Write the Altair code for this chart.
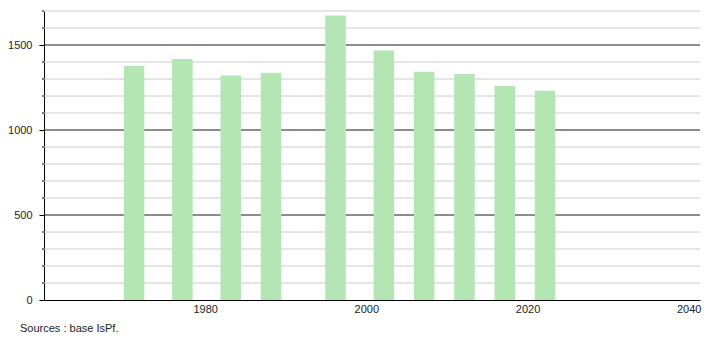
import altair as alt
import pandas as pd

years = [1971, 1977, 1983, 1988, 1996, 2002, 2007, 2012, 2017, 2022]
population = [1376, 1418, 1320, 1337, 1673, 1467, 1343, 1329, 1259, 1231]
x_ticks = [1980, 2000, 2020, 2040]
y_labels = [0, 500, 1000, 1500]
grid_values = [0, 100, 200, 300, 400, 500, 600, 700, 800, 900, 1000,
               1100, 1200, 1300, 1400, 1500, 1600, 1700]
source_text = "Sources : base IsPf."

W, H = 656, 289
FONT = "Liberation Sans"

bars_df = pd.DataFrame({"year": years, "pop": population})
grid_df = pd.DataFrame({"v": grid_values})
grid_df["major"] = grid_df["v"] % 500 == 0

xscale = alt.Scale(domain=[1960, 2041.4], nice=False, zero=False)
yscale = alt.Scale(domain=[0, 1700], nice=False)

yaxis = alt.Axis(
    values=y_labels, title=None, grid=False, tickSize=5, tickColor="#000000",
    domainColor="#000000", labelFont=FONT, labelFontSize=11,
    labelColor="#222222", labelPadding=7, format="d")
xaxis = alt.Axis(
    values=x_ticks, title=None, ticks=False, grid=False, domainColor="#000000",
    labelFont=FONT, labelFontSize=11, labelColor="#222222", labelPadding=3,
    format="d", labelFlush=False)

minor_grid = alt.Chart(grid_df).transform_filter("!datum.major").mark_rule(
    color="#cccccc", strokeWidth=1
).encode(
    y=alt.Y("v:Q", scale=yscale, axis=yaxis),
    x=alt.value(0), x2=alt.value(W),
)

major_grid = alt.Chart(grid_df).transform_filter("datum.major && datum.v > 0").mark_rule(
    color="#1a1a1a", strokeWidth=1
).encode(
    y=alt.Y("v:Q", scale=yscale, axis=yaxis),
    x=alt.value(0), x2=alt.value(W),
)

minor_ticks = alt.Chart(grid_df).transform_filter("!datum.major").mark_rule(
    color="#000000", strokeWidth=1
).encode(
    y=alt.Y("v:Q", scale=yscale, axis=yaxis),
    x=alt.value(-2), x2=alt.value(0),
)

bars = alt.Chart(bars_df).transform_calculate(
    x0="datum.year - 1.1", x1="datum.year + 1.45"
).mark_bar(color="#b3e6b3").encode(
    x=alt.X("x0:Q", scale=xscale, axis=xaxis),
    x2="x1:Q",
    y=alt.Y("pop:Q", scale=yscale, axis=yaxis),
    y2=alt.datum(0),
)

src = alt.Chart(pd.DataFrame({"t": [source_text]})).mark_text(
    align="left", baseline="middle", font=FONT, fontSize=11, color="#222222"
).encode(
    text="t:N", x=alt.value(-24), y=alt.value(H + 29),
)

chart = alt.layer(minor_grid, major_grid, bars, minor_ticks, src).properties(
    width=W, height=H,
    autosize=alt.AutoSizeParams(type="none"),
    padding={"left": 44, "top": 11, "right": 10, "bottom": 40},
    background="white",
).configure_view(stroke=None)

chart.save("out.html", embed_options={"renderer": "svg", "actions": False})
